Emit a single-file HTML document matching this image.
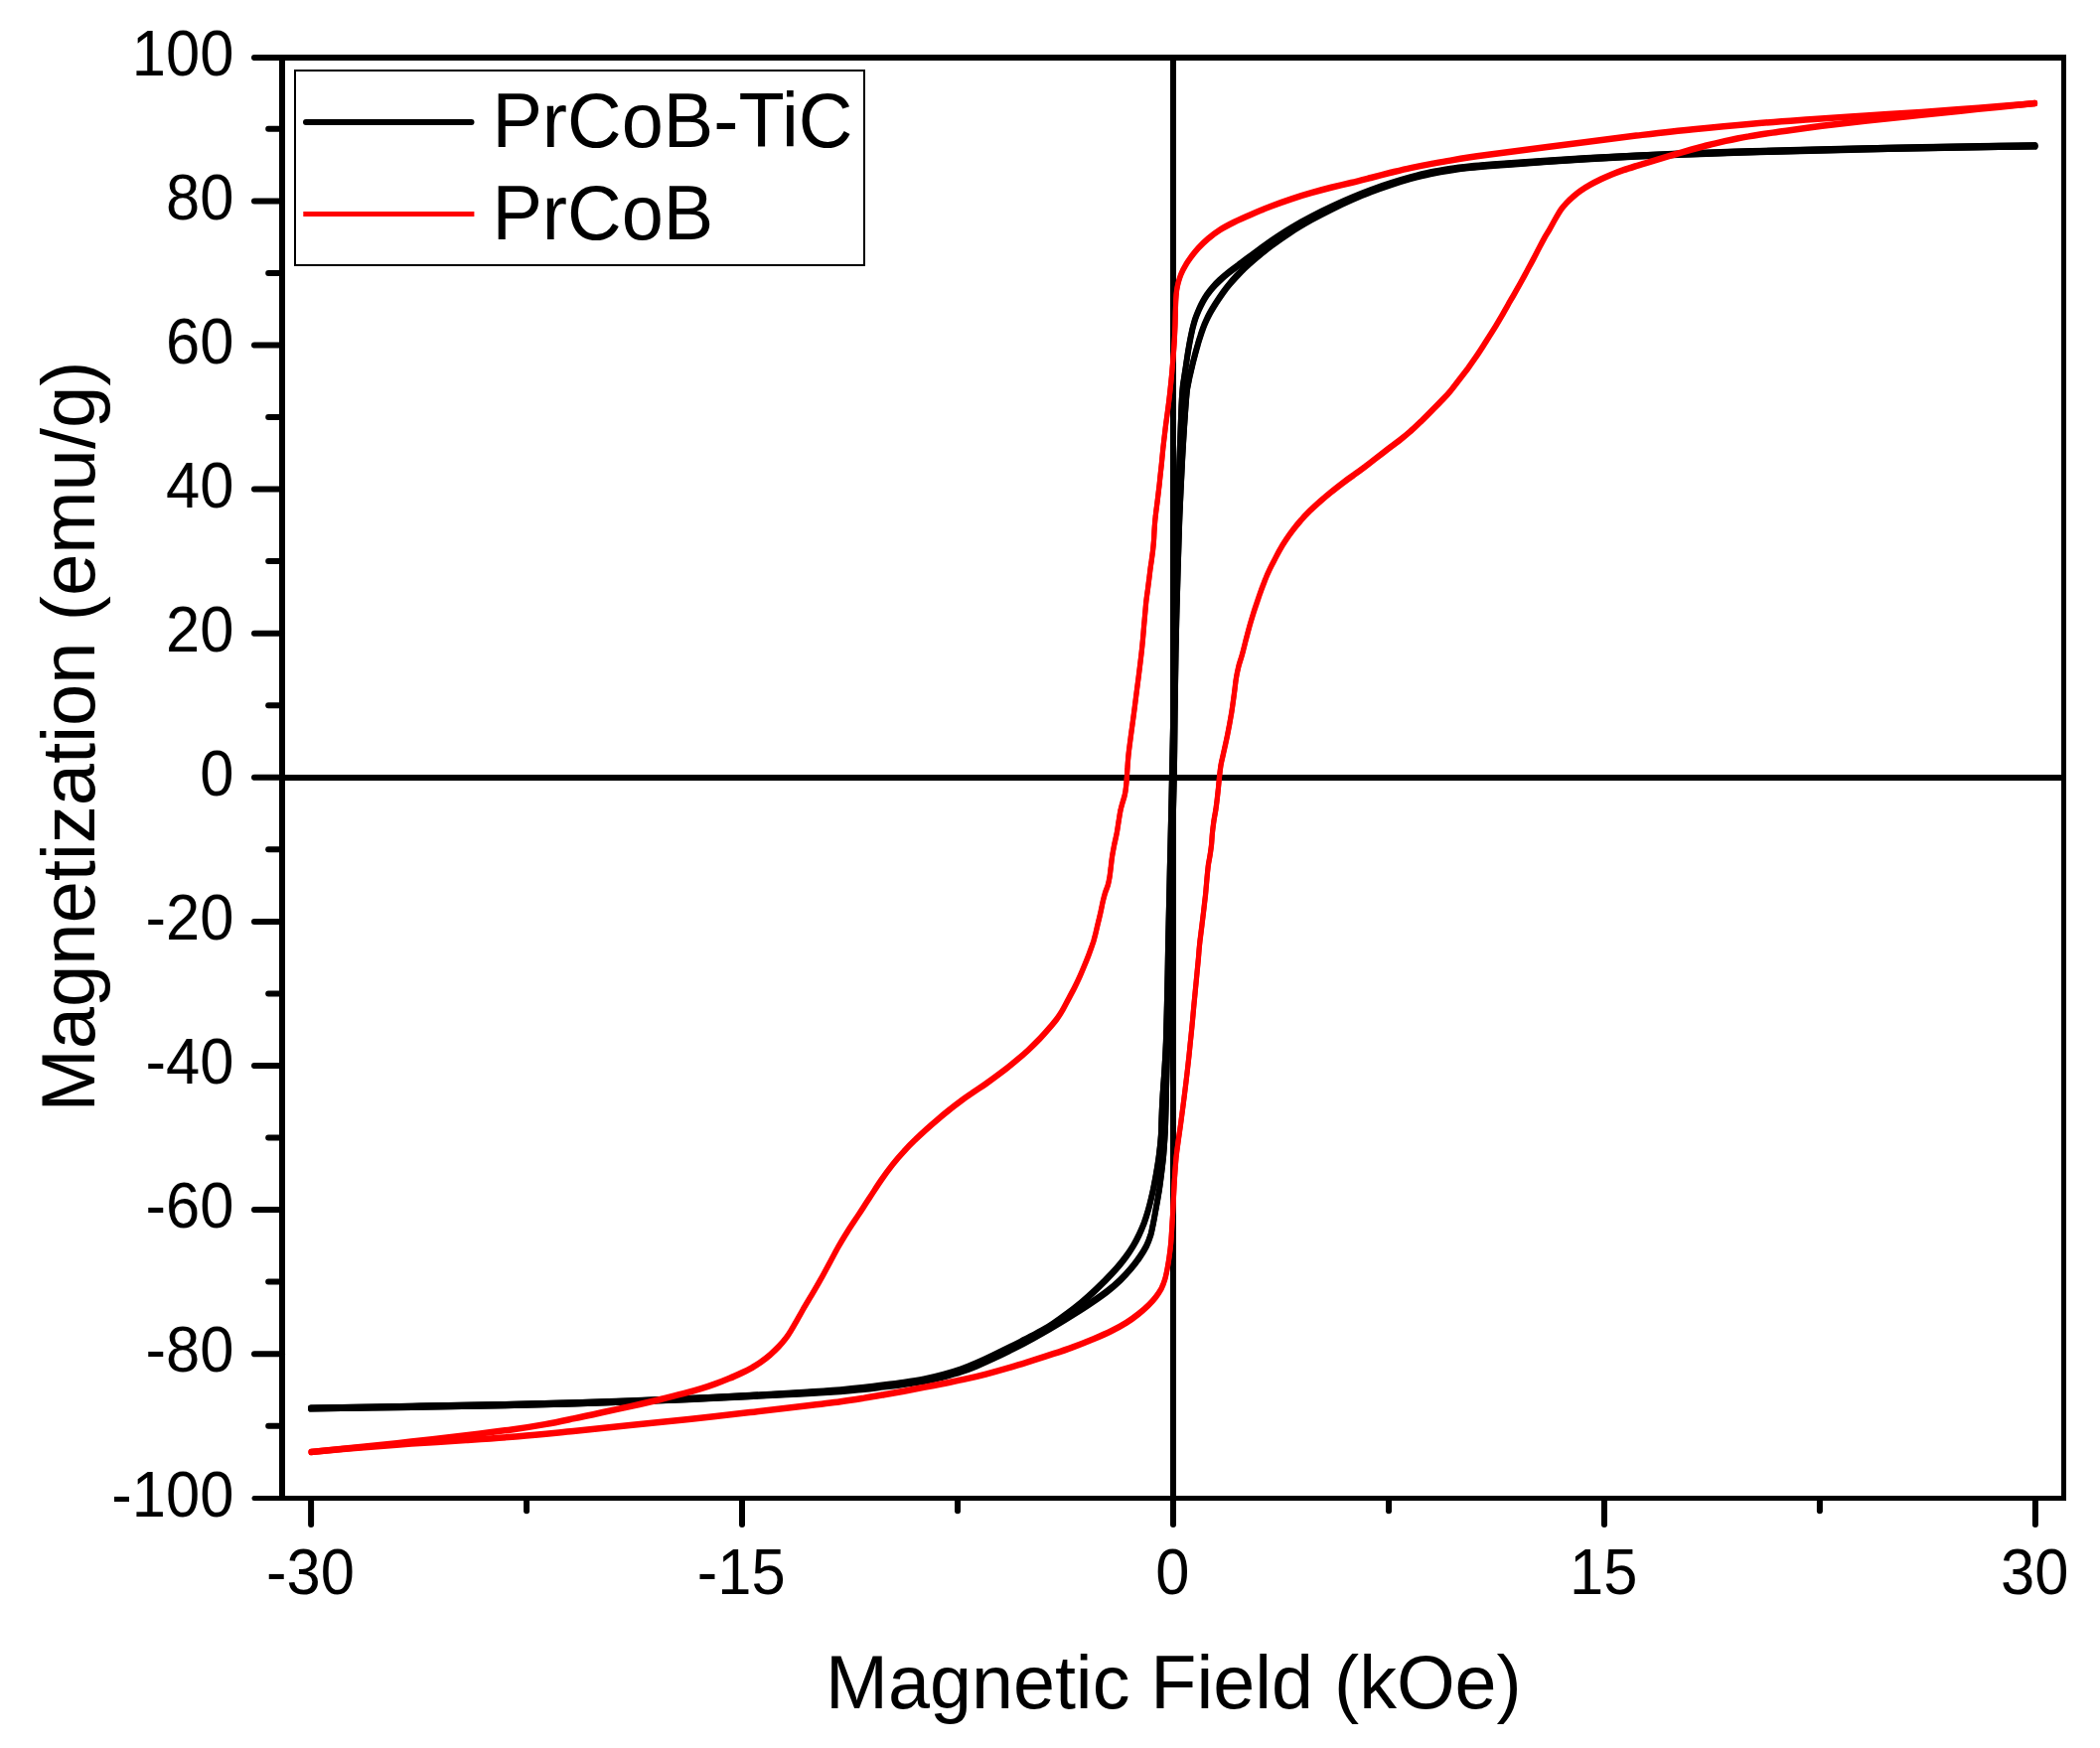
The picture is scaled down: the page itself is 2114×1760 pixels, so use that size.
<!DOCTYPE html>
<html><head><meta charset="utf-8"><title>Hysteresis loops</title>
<style>html,body{margin:0;padding:0;background:#fff}svg{display:block}text{font-family:"Liberation Sans",sans-serif;fill:#000}</style></head><body>
<svg width="2114" height="1760" viewBox="0 0 2114 1760">
<rect width="2114" height="1760" fill="#fff"/>
<g fill="#000">
<rect x="281" y="780" width="1799" height="6"/>
<rect x="1178" y="55" width="6" height="1456"/>
<rect x="281" y="55" width="6" height="1456"/>
<rect x="281" y="55" width="1799" height="6"/>
<rect x="2075" y="55" width="5" height="1456"/>
<rect x="281" y="1506" width="1799" height="5"/>
</g>
<g fill="none" stroke-linecap="round" stroke-linejoin="round">
<path transform="translate(0 -0.7)" stroke="#000" stroke-width="5.8" d="M313.0 1418.0C330.1 1417.7 382.9 1416.9 415.4 1416.3C447.9 1415.8 480.9 1415.2 507.9 1414.6C534.8 1414.0 556.1 1413.4 577.1 1412.8C598.2 1412.2 614.9 1411.7 634.3 1411.0C653.7 1410.3 673.4 1409.5 693.5 1408.6C713.7 1407.7 735.7 1406.6 755.0 1405.6C774.2 1404.7 793.7 1403.6 808.9 1402.8C824.1 1402.0 835.9 1401.3 846.1 1400.6C856.3 1399.9 862.7 1399.1 870.0 1398.4C877.3 1397.6 883.3 1396.8 890.0 1396.0C896.7 1395.2 903.3 1394.5 910.0 1393.5C916.7 1392.6 923.3 1391.6 930.0 1390.4C936.7 1389.1 943.8 1387.5 950.0 1385.9C956.2 1384.3 962.1 1382.7 967.5 1380.9C972.9 1379.1 977.1 1377.5 982.5 1375.3C987.9 1373.0 993.8 1370.4 1000.0 1367.5C1006.2 1364.6 1013.3 1361.2 1020.0 1357.8C1026.7 1354.4 1033.3 1350.9 1040.0 1347.2C1046.7 1343.5 1053.3 1339.8 1060.0 1335.8C1066.7 1331.9 1073.5 1327.7 1080.0 1323.6C1086.5 1319.6 1093.1 1315.4 1098.9 1311.4C1104.7 1307.5 1110.1 1303.8 1114.9 1300.0C1119.8 1296.2 1124.0 1292.5 1127.9 1288.7C1131.9 1284.9 1135.3 1281.1 1138.5 1277.3C1141.7 1273.5 1144.6 1269.6 1147.2 1265.8C1149.8 1262.0 1152.2 1258.2 1154.1 1254.4C1156.0 1250.6 1157.3 1246.8 1158.5 1243.0C1159.6 1239.1 1160.2 1235.3 1161.0 1231.5C1161.8 1227.7 1162.4 1223.9 1163.1 1220.1C1163.8 1216.3 1164.5 1212.4 1165.2 1208.6C1165.8 1204.8 1166.4 1201.5 1167.1 1197.2C1167.7 1192.9 1168.3 1188.6 1169.0 1182.9C1169.7 1177.2 1170.6 1170.5 1171.3 1162.9C1171.9 1155.2 1172.5 1148.7 1173.0 1137.0C1173.5 1125.2 1173.7 1112.6 1174.2 1092.5C1174.7 1072.4 1175.4 1045.3 1176.1 1016.2C1176.8 987.2 1177.8 948.9 1178.5 918.2C1179.3 887.6 1180.1 856.0 1180.7 832.2C1181.3 808.5 1181.6 794.3 1182.0 775.5C1182.3 756.7 1182.5 738.9 1182.7 719.4C1183.0 699.9 1183.2 676.1 1183.6 658.5C1183.9 641.0 1184.2 628.6 1184.6 614.1C1185.0 599.7 1185.4 587.9 1185.8 572.1C1186.3 556.3 1186.8 537.6 1187.5 519.4C1188.3 501.2 1189.3 480.1 1190.2 462.9C1191.1 445.7 1192.3 427.5 1193.1 416.1C1193.9 404.8 1194.3 399.5 1194.8 394.7C1195.3 389.9 1195.5 389.9 1196.0 387.3C1196.5 384.6 1197.1 381.5 1197.7 378.7C1198.4 375.9 1199.0 373.0 1199.7 370.3C1200.3 367.6 1200.9 365.0 1201.6 362.4C1202.3 359.8 1203.0 357.2 1203.6 354.7C1204.3 352.1 1205.0 349.6 1205.8 346.9C1206.5 344.3 1207.3 341.7 1208.2 339.0C1209.0 336.3 1209.9 333.5 1210.9 330.9C1211.9 328.2 1213.0 325.5 1214.2 322.9C1215.3 320.4 1216.6 317.8 1217.9 315.4C1219.2 313.0 1220.6 310.7 1222.1 308.3C1223.5 306.0 1225.0 303.7 1226.6 301.3C1228.2 298.8 1229.9 296.3 1231.7 293.8C1233.6 291.2 1235.6 288.6 1237.8 286.0C1239.9 283.5 1242.1 281.0 1244.4 278.5C1246.7 276.1 1248.5 274.1 1251.5 271.2C1254.5 268.4 1257.6 265.3 1262.3 261.3C1267.0 257.3 1273.5 252.0 1279.7 247.3C1286.0 242.6 1293.3 237.5 1300.0 233.1C1306.7 228.7 1313.3 224.9 1320.0 221.1C1326.7 217.4 1333.3 213.9 1340.0 210.6C1346.7 207.3 1353.3 204.2 1360.0 201.2C1366.7 198.3 1373.3 195.5 1380.0 192.9C1386.7 190.3 1393.3 188.0 1400.0 185.8C1406.7 183.5 1413.3 181.5 1420.0 179.6C1426.7 177.8 1433.3 176.1 1440.0 174.7C1446.7 173.3 1453.3 172.1 1460.0 171.1C1466.7 170.1 1473.3 169.2 1480.0 168.5C1486.7 167.7 1492.5 167.2 1500.0 166.6C1507.5 166.0 1515.4 165.5 1525.0 164.8C1534.6 164.1 1545.5 163.3 1557.5 162.5C1569.5 161.7 1581.8 160.8 1596.8 159.9C1611.7 159.0 1629.2 158.1 1647.1 157.2C1665.0 156.4 1685.0 155.5 1704.3 154.8C1723.6 154.1 1743.4 153.5 1763.0 152.9C1782.7 152.3 1802.9 151.8 1822.1 151.3C1841.3 150.8 1859.7 150.4 1878.4 149.9C1897.1 149.5 1915.4 149.1 1934.3 148.8C1953.1 148.4 1972.4 148.1 1991.4 147.8C2010.5 147.4 2039.1 147.0 2048.6 146.9"/>
<path transform="translate(0 0.7)" stroke="#000" stroke-width="5.8" d="M313.0 1418.0C330.1 1417.7 382.9 1416.9 415.4 1416.3C447.9 1415.8 480.9 1415.2 507.9 1414.6C534.8 1414.0 556.1 1413.4 577.1 1412.8C598.2 1412.2 614.9 1411.7 634.3 1411.0C653.7 1410.3 673.4 1409.5 693.5 1408.6C713.7 1407.7 735.7 1406.6 755.0 1405.6C774.2 1404.7 793.7 1403.6 808.9 1402.8C824.1 1402.0 835.9 1401.3 846.1 1400.6C856.3 1399.9 862.7 1399.1 870.0 1398.4C877.3 1397.6 883.3 1396.8 890.0 1396.0C896.7 1395.2 903.3 1394.5 910.0 1393.5C916.7 1392.6 923.3 1391.6 930.0 1390.4C936.7 1389.1 943.8 1387.5 950.0 1385.9C956.2 1384.3 962.1 1382.7 967.5 1380.9C972.9 1379.1 977.1 1377.5 982.5 1375.3C987.9 1373.0 993.8 1370.4 1000.0 1367.5C1006.2 1364.6 1013.3 1361.2 1020.0 1357.8C1026.7 1354.4 1033.3 1350.9 1040.0 1347.2C1046.7 1343.5 1053.3 1339.8 1060.0 1335.8C1066.7 1331.9 1073.5 1327.7 1080.0 1323.6C1086.5 1319.6 1093.1 1315.4 1098.9 1311.4C1104.7 1307.5 1110.1 1303.8 1114.9 1300.0C1119.8 1296.2 1124.0 1292.5 1127.9 1288.7C1131.9 1284.9 1135.3 1281.1 1138.5 1277.3C1141.7 1273.5 1144.6 1269.6 1147.2 1265.8C1149.8 1262.0 1152.2 1258.2 1154.1 1254.4C1156.0 1250.6 1157.3 1246.8 1158.5 1243.0C1159.6 1239.1 1160.2 1235.3 1161.0 1231.5C1161.8 1227.7 1162.4 1223.9 1163.1 1220.1C1163.8 1216.3 1164.5 1212.4 1165.2 1208.6C1165.8 1204.8 1166.4 1201.5 1167.1 1197.2C1167.7 1192.9 1168.3 1188.6 1169.0 1182.9C1169.7 1177.2 1170.6 1170.5 1171.3 1162.9C1171.9 1155.2 1172.5 1148.7 1173.0 1137.0C1173.5 1125.2 1173.7 1112.6 1174.2 1092.5C1174.7 1072.4 1175.4 1045.3 1176.1 1016.2C1176.8 987.2 1177.8 948.9 1178.5 918.2C1179.3 887.6 1180.1 856.0 1180.7 832.2C1181.3 808.5 1181.6 794.3 1182.0 775.5C1182.3 756.7 1182.5 738.9 1182.7 719.4C1183.0 699.9 1183.2 676.1 1183.6 658.5C1183.9 641.0 1184.2 628.6 1184.6 614.1C1185.0 599.7 1185.4 587.9 1185.8 572.1C1186.3 556.3 1186.8 537.6 1187.5 519.4C1188.3 501.2 1189.3 480.1 1190.2 462.9C1191.1 445.7 1192.3 427.5 1193.1 416.1C1193.9 404.8 1194.3 399.5 1194.8 394.7C1195.3 389.9 1195.5 389.9 1196.0 387.3C1196.5 384.6 1197.1 381.5 1197.7 378.7C1198.4 375.9 1199.0 373.0 1199.7 370.3C1200.3 367.6 1200.9 365.0 1201.6 362.4C1202.3 359.8 1203.0 357.2 1203.6 354.7C1204.3 352.1 1205.0 349.6 1205.8 346.9C1206.5 344.3 1207.3 341.7 1208.2 339.0C1209.0 336.3 1209.9 333.5 1210.9 330.9C1211.9 328.2 1213.0 325.5 1214.2 322.9C1215.3 320.4 1216.6 317.8 1217.9 315.4C1219.2 313.0 1220.6 310.7 1222.1 308.3C1223.5 306.0 1225.0 303.7 1226.6 301.3C1228.2 298.8 1229.9 296.3 1231.7 293.8C1233.6 291.2 1235.6 288.6 1237.8 286.0C1239.9 283.5 1242.1 281.0 1244.4 278.5C1246.7 276.1 1248.5 274.1 1251.5 271.2C1254.5 268.4 1257.6 265.3 1262.3 261.3C1267.0 257.3 1273.5 252.0 1279.7 247.3C1286.0 242.6 1293.3 237.5 1300.0 233.1C1306.7 228.7 1313.3 224.9 1320.0 221.1C1326.7 217.4 1333.3 213.9 1340.0 210.6C1346.7 207.3 1353.3 204.2 1360.0 201.2C1366.7 198.3 1373.3 195.5 1380.0 192.9C1386.7 190.3 1393.3 188.0 1400.0 185.8C1406.7 183.5 1413.3 181.5 1420.0 179.6C1426.7 177.8 1433.3 176.1 1440.0 174.7C1446.7 173.3 1453.3 172.1 1460.0 171.1C1466.7 170.1 1473.3 169.2 1480.0 168.5C1486.7 167.7 1492.5 167.2 1500.0 166.6C1507.5 166.0 1515.4 165.5 1525.0 164.8C1534.6 164.1 1545.5 163.3 1557.5 162.5C1569.5 161.7 1581.8 160.8 1596.8 159.9C1611.7 159.0 1629.2 158.1 1647.1 157.2C1665.0 156.4 1685.0 155.5 1704.3 154.8C1723.6 154.1 1743.4 153.5 1763.0 152.9C1782.7 152.3 1802.9 151.8 1822.1 151.3C1841.3 150.8 1859.7 150.4 1878.4 149.9C1897.1 149.5 1915.4 149.1 1934.3 148.8C1953.1 148.4 1972.4 148.1 1991.4 147.8C2010.5 147.4 2039.1 147.0 2048.6 146.9"/>
<path transform="translate(0 -0.7)" stroke="#000" stroke-width="5.8" d="M2048.6 146.9C2039.1 147.0 2010.5 147.4 1991.4 147.7C1972.4 148.0 1953.1 148.3 1934.3 148.6C1915.4 149.0 1897.1 149.4 1878.4 149.8C1859.7 150.2 1841.3 150.7 1822.1 151.2C1802.9 151.7 1782.7 152.2 1763.0 152.7C1743.4 153.3 1723.6 153.9 1704.3 154.6C1685.0 155.3 1665.0 156.1 1647.1 157.0C1629.2 157.8 1611.7 158.8 1596.8 159.6C1581.8 160.5 1569.5 161.4 1557.5 162.2C1545.5 163.0 1534.6 163.8 1525.0 164.4C1515.4 165.1 1507.5 165.6 1500.0 166.1C1492.5 166.7 1486.7 167.2 1480.0 167.9C1473.3 168.6 1466.7 169.3 1460.0 170.3C1453.3 171.4 1446.7 172.5 1440.0 173.9C1433.3 175.3 1426.7 177.0 1420.0 178.8C1413.3 180.6 1406.7 182.6 1400.0 184.8C1393.3 186.9 1386.7 189.2 1380.0 191.7C1373.3 194.2 1366.7 196.8 1360.0 199.6C1353.3 202.4 1346.7 205.4 1340.0 208.6C1333.3 211.7 1326.7 215.0 1320.0 218.6C1313.3 222.1 1306.7 225.7 1300.0 229.7C1293.3 233.7 1286.5 238.2 1280.0 242.6C1273.5 247.1 1266.8 252.2 1261.2 256.3C1255.7 260.4 1250.7 264.0 1246.5 267.2C1242.2 270.3 1239.1 272.6 1236.0 275.1C1232.8 277.6 1230.2 280.0 1227.7 282.4C1225.1 284.8 1222.8 287.1 1220.8 289.5C1218.8 291.8 1217.1 294.0 1215.4 296.3C1213.8 298.7 1212.4 301.0 1210.9 303.6C1209.5 306.2 1208.1 309.0 1206.8 312.0C1205.5 315.0 1204.2 318.2 1203.1 321.4C1202.1 324.6 1201.2 328.0 1200.4 331.1C1199.7 334.2 1199.1 337.2 1198.5 340.1C1197.9 343.0 1197.4 345.8 1196.9 348.7C1196.4 351.5 1195.9 354.4 1195.5 357.2C1195.1 360.1 1194.6 363.0 1194.2 365.8C1193.8 368.7 1193.4 371.5 1192.9 374.4C1192.5 377.3 1192.0 380.1 1191.6 383.0C1191.2 385.8 1190.9 386.1 1190.5 391.5C1190.0 396.9 1189.6 402.3 1189.1 415.4C1188.5 428.5 1187.8 449.6 1187.1 470.0C1186.5 490.3 1185.7 515.0 1185.1 537.5C1184.5 560.0 1184.0 580.8 1183.5 605.0C1183.0 629.2 1182.5 656.8 1181.9 682.5C1181.4 708.2 1180.8 737.2 1180.3 759.5C1179.9 781.8 1179.5 799.9 1179.1 816.5C1178.7 833.1 1178.4 845.0 1178.1 859.2C1177.7 873.5 1177.4 886.9 1177.1 902.0C1176.7 917.1 1176.4 933.1 1176.0 949.8C1175.7 966.4 1175.4 985.3 1175.0 1001.8C1174.6 1018.2 1174.2 1036.0 1173.8 1048.5C1173.3 1061.0 1172.8 1069.3 1172.3 1076.8C1171.9 1084.4 1171.5 1087.7 1171.1 1093.5C1170.7 1099.3 1170.3 1105.8 1170.0 1111.6C1169.7 1117.3 1169.5 1122.7 1169.3 1128.0C1169.1 1133.2 1169.2 1137.2 1168.8 1143.0C1168.4 1148.9 1167.7 1156.2 1166.8 1162.9C1166.0 1169.5 1164.7 1177.2 1163.7 1182.9C1162.7 1188.6 1161.8 1192.9 1161.0 1197.2C1160.1 1201.5 1159.3 1204.8 1158.4 1208.6C1157.5 1212.4 1156.5 1216.3 1155.4 1220.1C1154.3 1223.9 1153.1 1227.7 1151.7 1231.5C1150.2 1235.3 1148.6 1239.1 1146.8 1243.0C1145.0 1246.8 1143.1 1250.6 1140.8 1254.4C1138.5 1258.2 1136.1 1262.0 1133.2 1265.8C1130.4 1269.6 1127.2 1273.5 1123.8 1277.3C1120.4 1281.1 1116.8 1284.9 1113.1 1288.7C1109.3 1292.5 1105.6 1296.3 1101.5 1300.1C1097.4 1304.0 1093.2 1307.8 1088.6 1311.6C1084.0 1315.4 1078.8 1319.5 1074.0 1323.0C1069.3 1326.6 1064.2 1330.2 1060.0 1333.0C1055.9 1335.8 1052.9 1337.6 1049.2 1339.8C1045.4 1342.0 1042.1 1343.6 1037.3 1346.1C1032.4 1348.7 1026.2 1351.8 1020.0 1355.0C1013.8 1358.1 1006.2 1361.8 1000.0 1364.8C993.8 1367.8 987.9 1370.6 982.5 1372.9C977.1 1375.3 972.9 1377.0 967.5 1378.9C962.1 1380.8 956.2 1382.6 950.0 1384.2C943.8 1385.9 936.7 1387.6 930.0 1389.0C923.3 1390.3 916.7 1391.3 910.0 1392.3C903.3 1393.3 896.7 1394.1 890.0 1394.9C883.3 1395.8 877.3 1396.6 870.0 1397.4C862.7 1398.2 856.3 1398.9 846.1 1399.8C835.9 1400.6 824.1 1401.4 808.9 1402.3C793.7 1403.2 774.2 1404.4 755.0 1405.4C735.7 1406.4 713.7 1407.5 693.5 1408.4C673.4 1409.3 653.7 1410.1 634.3 1410.8C614.9 1411.5 598.2 1412.2 577.1 1412.8C556.1 1413.4 534.8 1414.0 507.8 1414.6C480.9 1415.2 447.9 1415.8 415.4 1416.3C382.9 1416.9 330.1 1417.7 313.0 1418.0"/>
<path transform="translate(0 0.7)" stroke="#000" stroke-width="5.8" d="M2048.6 146.9C2039.1 147.0 2010.5 147.4 1991.4 147.7C1972.4 148.0 1953.1 148.3 1934.3 148.6C1915.4 149.0 1897.1 149.4 1878.4 149.8C1859.7 150.2 1841.3 150.7 1822.1 151.2C1802.9 151.7 1782.7 152.2 1763.0 152.7C1743.4 153.3 1723.6 153.9 1704.3 154.6C1685.0 155.3 1665.0 156.1 1647.1 157.0C1629.2 157.8 1611.7 158.8 1596.8 159.6C1581.8 160.5 1569.5 161.4 1557.5 162.2C1545.5 163.0 1534.6 163.8 1525.0 164.4C1515.4 165.1 1507.5 165.6 1500.0 166.1C1492.5 166.7 1486.7 167.2 1480.0 167.9C1473.3 168.6 1466.7 169.3 1460.0 170.3C1453.3 171.4 1446.7 172.5 1440.0 173.9C1433.3 175.3 1426.7 177.0 1420.0 178.8C1413.3 180.6 1406.7 182.6 1400.0 184.8C1393.3 186.9 1386.7 189.2 1380.0 191.7C1373.3 194.2 1366.7 196.8 1360.0 199.6C1353.3 202.4 1346.7 205.4 1340.0 208.6C1333.3 211.7 1326.7 215.0 1320.0 218.6C1313.3 222.1 1306.7 225.7 1300.0 229.7C1293.3 233.7 1286.5 238.2 1280.0 242.6C1273.5 247.1 1266.8 252.2 1261.2 256.3C1255.7 260.4 1250.7 264.0 1246.5 267.2C1242.2 270.3 1239.1 272.6 1236.0 275.1C1232.8 277.6 1230.2 280.0 1227.7 282.4C1225.1 284.8 1222.8 287.1 1220.8 289.5C1218.8 291.8 1217.1 294.0 1215.4 296.3C1213.8 298.7 1212.4 301.0 1210.9 303.6C1209.5 306.2 1208.1 309.0 1206.8 312.0C1205.5 315.0 1204.2 318.2 1203.1 321.4C1202.1 324.6 1201.2 328.0 1200.4 331.1C1199.7 334.2 1199.1 337.2 1198.5 340.1C1197.9 343.0 1197.4 345.8 1196.9 348.7C1196.4 351.5 1195.9 354.4 1195.5 357.2C1195.1 360.1 1194.6 363.0 1194.2 365.8C1193.8 368.7 1193.4 371.5 1192.9 374.4C1192.5 377.3 1192.0 380.1 1191.6 383.0C1191.2 385.8 1190.9 386.1 1190.5 391.5C1190.0 396.9 1189.6 402.3 1189.1 415.4C1188.5 428.5 1187.8 449.6 1187.1 470.0C1186.5 490.3 1185.7 515.0 1185.1 537.5C1184.5 560.0 1184.0 580.8 1183.5 605.0C1183.0 629.2 1182.5 656.8 1181.9 682.5C1181.4 708.2 1180.8 737.2 1180.3 759.5C1179.9 781.8 1179.5 799.9 1179.1 816.5C1178.7 833.1 1178.4 845.0 1178.1 859.2C1177.7 873.5 1177.4 886.9 1177.1 902.0C1176.7 917.1 1176.4 933.1 1176.0 949.8C1175.7 966.4 1175.4 985.3 1175.0 1001.8C1174.6 1018.2 1174.2 1036.0 1173.8 1048.5C1173.3 1061.0 1172.8 1069.3 1172.3 1076.8C1171.9 1084.4 1171.5 1087.7 1171.1 1093.5C1170.7 1099.3 1170.3 1105.8 1170.0 1111.6C1169.7 1117.3 1169.5 1122.7 1169.3 1128.0C1169.1 1133.2 1169.2 1137.2 1168.8 1143.0C1168.4 1148.9 1167.7 1156.2 1166.8 1162.9C1166.0 1169.5 1164.7 1177.2 1163.7 1182.9C1162.7 1188.6 1161.8 1192.9 1161.0 1197.2C1160.1 1201.5 1159.3 1204.8 1158.4 1208.6C1157.5 1212.4 1156.5 1216.3 1155.4 1220.1C1154.3 1223.9 1153.1 1227.7 1151.7 1231.5C1150.2 1235.3 1148.6 1239.1 1146.8 1243.0C1145.0 1246.8 1143.1 1250.6 1140.8 1254.4C1138.5 1258.2 1136.1 1262.0 1133.2 1265.8C1130.4 1269.6 1127.2 1273.5 1123.8 1277.3C1120.4 1281.1 1116.8 1284.9 1113.1 1288.7C1109.3 1292.5 1105.6 1296.3 1101.5 1300.1C1097.4 1304.0 1093.2 1307.8 1088.6 1311.6C1084.0 1315.4 1078.8 1319.5 1074.0 1323.0C1069.3 1326.6 1064.2 1330.2 1060.0 1333.0C1055.9 1335.8 1052.9 1337.6 1049.2 1339.8C1045.4 1342.0 1042.1 1343.6 1037.3 1346.1C1032.4 1348.7 1026.2 1351.8 1020.0 1355.0C1013.8 1358.1 1006.2 1361.8 1000.0 1364.8C993.8 1367.8 987.9 1370.6 982.5 1372.9C977.1 1375.3 972.9 1377.0 967.5 1378.9C962.1 1380.8 956.2 1382.6 950.0 1384.2C943.8 1385.9 936.7 1387.6 930.0 1389.0C923.3 1390.3 916.7 1391.3 910.0 1392.3C903.3 1393.3 896.7 1394.1 890.0 1394.9C883.3 1395.8 877.3 1396.6 870.0 1397.4C862.7 1398.2 856.3 1398.9 846.1 1399.8C835.9 1400.6 824.1 1401.4 808.9 1402.3C793.7 1403.2 774.2 1404.4 755.0 1405.4C735.7 1406.4 713.7 1407.5 693.5 1408.4C673.4 1409.3 653.7 1410.1 634.3 1410.8C614.9 1411.5 598.2 1412.2 577.1 1412.8C556.1 1413.4 534.8 1414.0 507.8 1414.6C480.9 1415.2 447.9 1415.8 415.4 1416.3C382.9 1416.9 330.1 1417.7 313.0 1418.0"/>
<path transform="translate(0 -0.7)" stroke="#f00" stroke-width="5.1" d="M313.0 1462.0C320.9 1461.3 343.4 1459.2 360.2 1457.8C377.1 1456.4 395.9 1454.9 414.0 1453.6C432.1 1452.3 451.0 1451.3 469.0 1450.0C487.0 1448.8 504.0 1447.7 522.0 1446.2C540.0 1444.7 558.4 1442.8 577.1 1441.0C595.8 1439.1 614.9 1437.1 634.3 1435.1C653.7 1433.1 673.4 1431.1 693.5 1429.0C713.7 1426.8 735.7 1424.3 755.0 1422.1C774.2 1420.0 793.7 1417.7 808.9 1415.8C824.1 1414.0 835.9 1412.6 846.1 1411.2C856.3 1409.9 862.7 1408.8 870.0 1407.6C877.3 1406.5 883.3 1405.4 890.0 1404.2C896.7 1403.0 903.3 1401.9 910.0 1400.7C916.7 1399.4 923.3 1398.2 930.0 1396.9C936.7 1395.6 943.3 1394.3 950.0 1393.0C956.7 1391.7 962.9 1390.5 970.0 1388.9C977.1 1387.4 984.6 1385.7 992.5 1383.6C1000.4 1381.5 1009.6 1378.9 1017.5 1376.6C1025.4 1374.3 1032.9 1371.9 1040.0 1369.7C1047.1 1367.5 1053.3 1365.5 1060.0 1363.2C1066.7 1361.0 1073.3 1358.8 1080.0 1356.3C1086.7 1353.9 1093.6 1351.2 1100.0 1348.5C1106.4 1345.8 1112.9 1343.0 1118.5 1340.2C1124.1 1337.4 1129.1 1334.7 1133.7 1331.8C1138.3 1329.0 1142.4 1326.0 1146.1 1323.0C1149.8 1320.1 1153.2 1317.0 1156.1 1314.2C1159.0 1311.3 1161.4 1308.6 1163.5 1305.9C1165.7 1303.1 1167.4 1300.5 1169.0 1297.6C1170.5 1294.6 1171.7 1291.5 1172.7 1288.1C1173.7 1284.8 1174.4 1281.0 1175.1 1277.3C1175.8 1273.6 1176.4 1270.1 1177.0 1265.8C1177.6 1261.5 1178.2 1257.3 1178.7 1251.5C1179.2 1245.8 1179.6 1238.7 1180.0 1231.5C1180.5 1224.4 1180.9 1216.3 1181.3 1208.6C1181.7 1201.0 1182.0 1192.9 1182.5 1185.8C1183.0 1178.6 1183.5 1171.5 1184.0 1165.7C1184.6 1160.0 1185.0 1157.0 1185.8 1151.4C1186.5 1145.8 1187.4 1140.4 1188.5 1132.2C1189.6 1124.0 1191.2 1111.9 1192.4 1102.2C1193.6 1092.6 1194.8 1082.8 1195.7 1074.4C1196.7 1065.9 1197.4 1059.1 1198.1 1051.5C1198.9 1043.9 1199.7 1036.3 1200.4 1028.6C1201.1 1021.0 1201.7 1013.4 1202.5 1005.8C1203.2 998.1 1204.0 989.8 1204.7 982.9C1205.4 975.9 1206.0 969.1 1206.5 964.0C1206.9 958.8 1207.1 955.6 1207.5 951.9C1207.8 948.2 1208.2 945.2 1208.7 941.6C1209.1 938.0 1209.7 934.0 1210.1 930.1C1210.6 926.3 1211.0 922.5 1211.5 918.7C1211.9 914.9 1212.4 911.1 1212.8 907.3C1213.3 903.5 1213.7 899.8 1214.0 895.8C1214.4 891.8 1214.7 887.4 1215.1 883.2C1215.5 879.1 1215.9 874.5 1216.4 870.7C1217.0 866.9 1217.7 863.8 1218.2 860.4C1218.7 856.9 1219.2 853.8 1219.6 850.1C1219.9 846.4 1220.1 842.1 1220.5 838.1C1220.9 834.1 1221.5 829.9 1222.0 826.1C1222.6 822.2 1223.3 818.8 1223.9 815.2C1224.4 811.6 1224.9 808.0 1225.3 804.3C1225.7 800.7 1226.1 797.0 1226.5 793.2C1226.8 789.5 1227.2 785.4 1227.6 781.6C1228.0 777.8 1228.4 774.2 1229.0 770.3C1229.7 766.5 1230.5 763.5 1231.6 758.5C1232.7 753.5 1234.2 747.0 1235.6 740.2C1237.0 733.3 1238.6 724.5 1239.8 717.3C1240.9 710.1 1241.8 703.1 1242.6 697.3C1243.4 691.5 1243.7 686.9 1244.5 682.4C1245.2 677.9 1246.1 674.2 1247.0 670.4C1248.0 666.6 1249.2 663.6 1250.3 659.5C1251.5 655.4 1252.4 651.4 1253.8 645.8C1255.3 640.2 1257.1 632.9 1259.2 625.8C1261.3 618.6 1264.2 609.8 1266.6 602.9C1268.9 595.9 1271.5 589.0 1273.5 584.0C1275.4 578.9 1276.9 575.8 1278.5 572.5C1280.1 569.1 1281.3 566.9 1282.9 563.9C1284.5 560.8 1286.1 557.5 1288.0 554.2C1289.9 550.8 1292.1 547.2 1294.3 543.9C1296.6 540.5 1298.9 537.2 1301.5 533.8C1304.0 530.5 1306.6 527.2 1309.5 524.0C1312.3 520.7 1315.4 517.4 1318.6 514.3C1321.9 511.1 1325.3 508.0 1328.9 504.8C1332.5 501.7 1336.3 498.5 1340.1 495.4C1343.8 492.3 1347.7 489.3 1351.5 486.4C1355.3 483.5 1359.1 480.8 1363.0 478.1C1366.8 475.3 1370.6 472.6 1374.4 469.8C1378.2 466.9 1382.0 463.9 1385.8 460.9C1389.6 458.0 1393.5 455.0 1397.3 452.1C1401.1 449.1 1404.9 446.5 1408.7 443.5C1412.5 440.5 1416.3 437.4 1420.1 434.0C1424.0 430.7 1427.8 426.9 1431.6 423.2C1435.4 419.5 1439.5 415.3 1443.0 411.7C1446.6 408.2 1449.9 404.9 1452.8 401.8C1455.8 398.7 1457.9 396.4 1460.5 393.2C1463.1 390.0 1465.8 386.5 1468.6 382.8C1471.4 379.2 1474.6 375.0 1477.5 371.2C1480.3 367.3 1483.0 363.5 1485.6 359.7C1488.2 356.0 1490.6 352.2 1492.9 348.6C1495.2 344.9 1497.5 341.4 1499.6 338.0C1501.8 334.6 1503.9 331.3 1505.9 328.0C1507.9 324.6 1509.8 321.4 1511.8 318.0C1513.8 314.5 1515.7 311.0 1517.8 307.4C1519.8 303.8 1522.0 300.2 1524.1 296.5C1526.2 292.8 1528.3 289.0 1530.5 285.1C1532.7 281.1 1535.0 276.9 1537.2 272.8C1539.4 268.7 1541.7 264.5 1543.8 260.5C1545.9 256.5 1547.9 252.4 1549.8 248.8C1551.7 245.1 1553.5 241.8 1555.2 238.7C1557.0 235.6 1558.6 233.2 1560.3 230.2C1562.1 227.1 1563.9 223.6 1565.7 220.4C1567.6 217.2 1569.5 213.7 1571.4 211.0C1573.3 208.3 1575.2 206.3 1577.2 204.1C1579.2 202.0 1581.1 200.2 1583.5 198.1C1585.8 196.1 1588.3 194.0 1591.2 192.0C1594.0 190.0 1597.2 188.0 1600.6 186.1C1604.0 184.2 1607.8 182.3 1611.5 180.5C1615.2 178.8 1619.1 177.1 1622.9 175.5C1626.7 174.0 1630.5 172.6 1634.4 171.2C1638.2 169.9 1642.0 168.7 1645.8 167.5C1649.6 166.3 1653.4 165.2 1657.2 164.1C1661.0 163.0 1664.9 161.8 1668.7 160.7C1672.5 159.5 1676.3 158.4 1680.1 157.2C1683.9 156.1 1687.7 154.9 1691.5 153.8C1695.4 152.7 1699.2 151.6 1703.0 150.5C1706.8 149.5 1710.6 148.5 1714.4 147.5C1718.2 146.5 1722.1 145.6 1725.9 144.6C1729.7 143.7 1733.5 142.8 1737.3 141.9C1741.1 141.1 1744.9 140.3 1748.7 139.5C1752.6 138.7 1756.4 138.0 1760.2 137.4C1764.0 136.7 1767.6 136.1 1771.6 135.5C1775.7 134.9 1779.2 134.4 1784.4 133.6C1789.7 132.9 1795.0 132.0 1803.3 130.9C1811.6 129.7 1821.5 128.3 1834.2 126.7C1847.0 125.2 1862.9 123.4 1879.5 121.5C1896.1 119.7 1915.4 117.8 1934.0 115.8C1952.6 113.8 1972.1 111.8 1991.2 109.8C2010.2 107.9 2039.0 105.0 2048.6 104.0"/>
<path transform="translate(0 0.7)" stroke="#f00" stroke-width="5.1" d="M313.0 1462.0C320.9 1461.3 343.4 1459.2 360.2 1457.8C377.1 1456.4 395.9 1454.9 414.0 1453.6C432.1 1452.3 451.0 1451.3 469.0 1450.0C487.0 1448.8 504.0 1447.7 522.0 1446.2C540.0 1444.7 558.4 1442.8 577.1 1441.0C595.8 1439.1 614.9 1437.1 634.3 1435.1C653.7 1433.1 673.4 1431.1 693.5 1429.0C713.7 1426.8 735.7 1424.3 755.0 1422.1C774.2 1420.0 793.7 1417.7 808.9 1415.8C824.1 1414.0 835.9 1412.6 846.1 1411.2C856.3 1409.9 862.7 1408.8 870.0 1407.6C877.3 1406.5 883.3 1405.4 890.0 1404.2C896.7 1403.0 903.3 1401.9 910.0 1400.7C916.7 1399.4 923.3 1398.2 930.0 1396.9C936.7 1395.6 943.3 1394.3 950.0 1393.0C956.7 1391.7 962.9 1390.5 970.0 1388.9C977.1 1387.4 984.6 1385.7 992.5 1383.6C1000.4 1381.5 1009.6 1378.9 1017.5 1376.6C1025.4 1374.3 1032.9 1371.9 1040.0 1369.7C1047.1 1367.5 1053.3 1365.5 1060.0 1363.2C1066.7 1361.0 1073.3 1358.8 1080.0 1356.3C1086.7 1353.9 1093.6 1351.2 1100.0 1348.5C1106.4 1345.8 1112.9 1343.0 1118.5 1340.2C1124.1 1337.4 1129.1 1334.7 1133.7 1331.8C1138.3 1329.0 1142.4 1326.0 1146.1 1323.0C1149.8 1320.1 1153.2 1317.0 1156.1 1314.2C1159.0 1311.3 1161.4 1308.6 1163.5 1305.9C1165.7 1303.1 1167.4 1300.5 1169.0 1297.6C1170.5 1294.6 1171.7 1291.5 1172.7 1288.1C1173.7 1284.8 1174.4 1281.0 1175.1 1277.3C1175.8 1273.6 1176.4 1270.1 1177.0 1265.8C1177.6 1261.5 1178.2 1257.3 1178.7 1251.5C1179.2 1245.8 1179.6 1238.7 1180.0 1231.5C1180.5 1224.4 1180.9 1216.3 1181.3 1208.6C1181.7 1201.0 1182.0 1192.9 1182.5 1185.8C1183.0 1178.6 1183.5 1171.5 1184.0 1165.7C1184.6 1160.0 1185.0 1157.0 1185.8 1151.4C1186.5 1145.8 1187.4 1140.4 1188.5 1132.2C1189.6 1124.0 1191.2 1111.9 1192.4 1102.2C1193.6 1092.6 1194.8 1082.8 1195.7 1074.4C1196.7 1065.9 1197.4 1059.1 1198.1 1051.5C1198.9 1043.9 1199.7 1036.3 1200.4 1028.6C1201.1 1021.0 1201.7 1013.4 1202.5 1005.8C1203.2 998.1 1204.0 989.8 1204.7 982.9C1205.4 975.9 1206.0 969.1 1206.5 964.0C1206.9 958.8 1207.1 955.6 1207.5 951.9C1207.8 948.2 1208.2 945.2 1208.7 941.6C1209.1 938.0 1209.7 934.0 1210.1 930.1C1210.6 926.3 1211.0 922.5 1211.5 918.7C1211.9 914.9 1212.4 911.1 1212.8 907.3C1213.3 903.5 1213.7 899.8 1214.0 895.8C1214.4 891.8 1214.7 887.4 1215.1 883.2C1215.5 879.1 1215.9 874.5 1216.4 870.7C1217.0 866.9 1217.7 863.8 1218.2 860.4C1218.7 856.9 1219.2 853.8 1219.6 850.1C1219.9 846.4 1220.1 842.1 1220.5 838.1C1220.9 834.1 1221.5 829.9 1222.0 826.1C1222.6 822.2 1223.3 818.8 1223.9 815.2C1224.4 811.6 1224.9 808.0 1225.3 804.3C1225.7 800.7 1226.1 797.0 1226.5 793.2C1226.8 789.5 1227.2 785.4 1227.6 781.6C1228.0 777.8 1228.4 774.2 1229.0 770.3C1229.7 766.5 1230.5 763.5 1231.6 758.5C1232.7 753.5 1234.2 747.0 1235.6 740.2C1237.0 733.3 1238.6 724.5 1239.8 717.3C1240.9 710.1 1241.8 703.1 1242.6 697.3C1243.4 691.5 1243.7 686.9 1244.5 682.4C1245.2 677.9 1246.1 674.2 1247.0 670.4C1248.0 666.6 1249.2 663.6 1250.3 659.5C1251.5 655.4 1252.4 651.4 1253.8 645.8C1255.3 640.2 1257.1 632.9 1259.2 625.8C1261.3 618.6 1264.2 609.8 1266.6 602.9C1268.9 595.9 1271.5 589.0 1273.5 584.0C1275.4 578.9 1276.9 575.8 1278.5 572.5C1280.1 569.1 1281.3 566.9 1282.9 563.9C1284.5 560.8 1286.1 557.5 1288.0 554.2C1289.9 550.8 1292.1 547.2 1294.3 543.9C1296.6 540.5 1298.9 537.2 1301.5 533.8C1304.0 530.5 1306.6 527.2 1309.5 524.0C1312.3 520.7 1315.4 517.4 1318.6 514.3C1321.9 511.1 1325.3 508.0 1328.9 504.8C1332.5 501.7 1336.3 498.5 1340.1 495.4C1343.8 492.3 1347.7 489.3 1351.5 486.4C1355.3 483.5 1359.1 480.8 1363.0 478.1C1366.8 475.3 1370.6 472.6 1374.4 469.8C1378.2 466.9 1382.0 463.9 1385.8 460.9C1389.6 458.0 1393.5 455.0 1397.3 452.1C1401.1 449.1 1404.9 446.5 1408.7 443.5C1412.5 440.5 1416.3 437.4 1420.1 434.0C1424.0 430.7 1427.8 426.9 1431.6 423.2C1435.4 419.5 1439.5 415.3 1443.0 411.7C1446.6 408.2 1449.9 404.9 1452.8 401.8C1455.8 398.7 1457.9 396.4 1460.5 393.2C1463.1 390.0 1465.8 386.5 1468.6 382.8C1471.4 379.2 1474.6 375.0 1477.5 371.2C1480.3 367.3 1483.0 363.5 1485.6 359.7C1488.2 356.0 1490.6 352.2 1492.9 348.6C1495.2 344.9 1497.5 341.4 1499.6 338.0C1501.8 334.6 1503.9 331.3 1505.9 328.0C1507.9 324.6 1509.8 321.4 1511.8 318.0C1513.8 314.5 1515.7 311.0 1517.8 307.4C1519.8 303.8 1522.0 300.2 1524.1 296.5C1526.2 292.8 1528.3 289.0 1530.5 285.1C1532.7 281.1 1535.0 276.9 1537.2 272.8C1539.4 268.7 1541.7 264.5 1543.8 260.5C1545.9 256.5 1547.9 252.4 1549.8 248.8C1551.7 245.1 1553.5 241.8 1555.2 238.7C1557.0 235.6 1558.6 233.2 1560.3 230.2C1562.1 227.1 1563.9 223.6 1565.7 220.4C1567.6 217.2 1569.5 213.7 1571.4 211.0C1573.3 208.3 1575.2 206.3 1577.2 204.1C1579.2 202.0 1581.1 200.2 1583.5 198.1C1585.8 196.1 1588.3 194.0 1591.2 192.0C1594.0 190.0 1597.2 188.0 1600.6 186.1C1604.0 184.2 1607.8 182.3 1611.5 180.5C1615.2 178.8 1619.1 177.1 1622.9 175.5C1626.7 174.0 1630.5 172.6 1634.4 171.2C1638.2 169.9 1642.0 168.7 1645.8 167.5C1649.6 166.3 1653.4 165.2 1657.2 164.1C1661.0 163.0 1664.9 161.8 1668.7 160.7C1672.5 159.5 1676.3 158.4 1680.1 157.2C1683.9 156.1 1687.7 154.9 1691.5 153.8C1695.4 152.7 1699.2 151.6 1703.0 150.5C1706.8 149.5 1710.6 148.5 1714.4 147.5C1718.2 146.5 1722.1 145.6 1725.9 144.6C1729.7 143.7 1733.5 142.8 1737.3 141.9C1741.1 141.1 1744.9 140.3 1748.7 139.5C1752.6 138.7 1756.4 138.0 1760.2 137.4C1764.0 136.7 1767.6 136.1 1771.6 135.5C1775.7 134.9 1779.2 134.4 1784.4 133.6C1789.7 132.9 1795.0 132.0 1803.3 130.9C1811.6 129.7 1821.5 128.3 1834.2 126.7C1847.0 125.2 1862.9 123.4 1879.5 121.5C1896.1 119.7 1915.4 117.8 1934.0 115.8C1952.6 113.8 1972.1 111.8 1991.2 109.8C2010.2 107.9 2039.0 105.0 2048.6 104.0"/>
<path transform="translate(0 -0.7)" stroke="#f00" stroke-width="5.1" d="M2048.6 104.0C2039.1 104.8 2010.5 107.3 1991.4 108.8C1972.4 110.2 1953.1 111.6 1934.3 112.9C1915.4 114.2 1897.1 115.3 1878.4 116.5C1859.7 117.8 1841.3 118.9 1822.1 120.2C1802.9 121.6 1782.7 123.0 1763.0 124.7C1743.4 126.3 1723.6 128.2 1704.3 130.2C1685.0 132.1 1665.0 134.5 1647.1 136.6C1629.2 138.7 1611.7 141.0 1596.8 142.9C1581.8 144.8 1569.5 146.5 1557.5 148.1C1545.5 149.7 1534.6 151.1 1525.0 152.3C1515.4 153.5 1507.5 154.5 1500.0 155.5C1492.5 156.5 1486.7 157.3 1480.0 158.3C1473.3 159.3 1466.7 160.4 1460.0 161.6C1453.3 162.7 1446.7 163.9 1440.0 165.1C1433.3 166.4 1426.7 167.7 1420.0 169.1C1413.3 170.6 1406.7 172.2 1400.0 173.8C1393.3 175.5 1386.7 177.3 1380.0 179.0C1373.3 180.7 1366.7 182.4 1360.0 184.0C1353.3 185.6 1346.7 187.2 1340.0 188.8C1333.3 190.5 1326.7 192.3 1320.0 194.2C1313.3 196.1 1306.7 198.1 1300.0 200.3C1293.3 202.5 1286.7 204.9 1280.0 207.5C1273.3 210.0 1266.3 212.9 1260.0 215.7C1253.7 218.4 1247.5 221.1 1242.2 223.7C1236.8 226.4 1232.3 228.7 1228.0 231.5C1223.6 234.3 1219.4 237.5 1215.8 240.6C1212.2 243.6 1209.0 246.9 1206.2 249.9C1203.4 252.9 1201.3 255.7 1199.1 258.6C1197.0 261.5 1195.0 264.3 1193.4 267.2C1191.7 270.0 1190.2 272.9 1189.1 275.7C1187.9 278.6 1187.0 281.5 1186.2 284.3C1185.5 287.2 1184.9 289.9 1184.5 292.9C1184.1 295.9 1183.9 299.0 1183.7 302.5C1183.5 306.1 1183.5 310.2 1183.3 314.3C1183.2 318.5 1183.1 322.9 1183.0 327.2C1182.8 331.5 1182.6 335.8 1182.4 340.1C1182.2 344.4 1181.9 348.7 1181.6 353.0C1181.2 357.2 1180.9 361.5 1180.5 365.8C1180.2 370.1 1179.7 374.6 1179.4 378.7C1179.0 382.8 1178.6 386.5 1178.2 390.5C1177.8 394.4 1177.5 397.7 1176.9 402.2C1176.4 406.6 1175.7 411.8 1175.0 417.2C1174.3 422.5 1173.4 428.6 1172.8 434.3C1172.1 440.0 1171.4 446.0 1170.8 451.5C1170.3 457.0 1169.8 462.3 1169.3 467.2C1168.8 472.1 1168.3 476.4 1167.8 480.9C1167.4 485.5 1166.9 490.1 1166.3 494.7C1165.8 499.2 1165.2 503.9 1164.7 508.1C1164.1 512.3 1163.6 516.2 1163.2 520.1C1162.7 524.0 1162.5 527.7 1162.2 531.5C1161.9 535.4 1161.8 539.3 1161.6 543.0C1161.3 546.7 1161.0 550.4 1160.6 553.9C1160.2 557.3 1159.7 560.6 1159.3 563.9C1158.8 567.2 1158.3 570.3 1157.9 573.6C1157.5 576.9 1157.1 580.2 1156.7 583.6C1156.2 587.0 1155.9 589.9 1155.4 593.7C1154.9 597.5 1154.3 601.2 1153.7 606.5C1153.2 611.8 1152.6 618.7 1152.0 625.8C1151.3 632.8 1150.8 641.0 1150.0 648.6C1149.3 656.3 1148.3 663.9 1147.4 671.5C1146.5 679.2 1145.5 686.8 1144.5 694.4C1143.5 702.0 1142.6 709.7 1141.6 717.3C1140.6 724.9 1139.4 733.2 1138.5 740.2C1137.6 747.1 1136.7 753.9 1136.1 759.1C1135.6 764.3 1135.3 767.6 1135.1 771.5C1134.8 775.3 1134.6 778.7 1134.4 782.2C1134.1 785.7 1133.9 789.4 1133.5 792.4C1133.2 795.4 1132.9 797.8 1132.3 800.3C1131.8 802.8 1131.0 804.8 1130.2 807.5C1129.5 810.1 1128.5 813.0 1127.9 816.3C1127.2 819.6 1126.7 823.5 1126.1 827.2C1125.5 830.9 1125.0 834.8 1124.3 838.6C1123.6 842.4 1122.6 846.3 1121.8 850.1C1121.1 853.9 1120.3 857.7 1119.7 861.5C1119.1 865.3 1118.7 869.3 1118.3 873.0C1117.8 876.6 1117.5 880.2 1117.0 883.2C1116.5 886.3 1116.0 888.7 1115.3 891.3C1114.5 893.8 1113.5 895.9 1112.6 898.7C1111.8 901.5 1111.0 904.5 1110.2 907.8C1109.4 911.2 1108.8 915.0 1107.9 918.7C1107.1 922.4 1106.1 926.5 1105.2 930.1C1104.3 933.8 1103.5 937.5 1102.8 940.4C1102.0 943.4 1101.4 945.7 1100.8 947.9C1100.1 950.1 1099.6 951.4 1098.8 953.6C1098.0 955.8 1097.2 958.1 1096.1 961.1C1095.0 964.1 1093.5 967.8 1092.0 971.4C1090.5 975.1 1088.8 979.1 1087.1 982.9C1085.4 986.7 1083.6 990.5 1081.7 994.3C1079.8 998.1 1077.6 1002.1 1075.7 1005.8C1073.7 1009.4 1072.0 1013.0 1070.1 1016.3C1068.2 1019.6 1066.5 1022.4 1064.2 1025.5C1062.0 1028.6 1059.4 1031.5 1056.5 1034.9C1053.6 1038.3 1050.3 1042.1 1046.8 1045.8C1043.2 1049.5 1039.3 1053.4 1035.2 1057.2C1031.1 1061.0 1026.6 1064.9 1022.0 1068.7C1017.5 1072.5 1012.6 1076.4 1007.7 1080.1C1002.8 1083.8 997.5 1087.7 992.6 1091.1C987.7 1094.5 982.7 1097.7 978.3 1100.8C973.8 1103.8 969.9 1106.5 966.0 1109.5C962.0 1112.4 958.4 1115.3 954.7 1118.3C950.9 1121.3 947.2 1124.4 943.5 1127.6C939.7 1130.8 936.0 1134.0 932.3 1137.3C928.5 1140.7 924.8 1144.1 921.1 1147.8C917.3 1151.4 913.6 1155.2 909.9 1159.4C906.1 1163.5 902.4 1167.7 898.6 1172.5C894.8 1177.3 891.0 1182.5 887.2 1188.0C883.4 1193.4 879.6 1199.6 875.8 1205.4C871.9 1211.2 868.1 1217.3 864.3 1223.0C860.6 1228.7 856.8 1234.2 853.4 1239.6C850.0 1244.9 847.0 1250.0 844.1 1255.0C841.2 1260.1 838.7 1265.0 836.1 1269.8C833.6 1274.5 831.1 1279.2 828.7 1283.6C826.3 1287.9 824.0 1291.8 821.8 1295.8C819.5 1299.7 817.3 1303.4 815.0 1307.2C812.8 1311.0 810.5 1314.9 808.3 1318.6C806.2 1322.4 804.1 1326.1 802.2 1329.5C800.2 1332.9 798.6 1336.0 796.7 1338.9C794.9 1341.9 793.3 1344.5 791.2 1347.2C789.1 1350.0 786.8 1352.7 784.2 1355.5C781.5 1358.3 778.3 1361.4 775.3 1364.1C772.2 1366.8 768.8 1369.4 765.8 1371.6C762.7 1373.8 760.1 1375.3 757.0 1377.1C753.9 1378.9 750.9 1380.4 747.1 1382.1C743.3 1383.9 738.8 1386.0 734.3 1387.8C729.8 1389.7 724.8 1391.7 720.0 1393.4C715.3 1395.1 711.1 1396.6 705.8 1398.2C700.4 1399.9 695.0 1401.4 687.9 1403.2C680.7 1405.1 671.8 1407.3 662.9 1409.5C653.9 1411.6 643.8 1414.0 634.3 1416.1C624.8 1418.2 615.2 1420.3 605.7 1422.3C596.2 1424.4 586.6 1426.5 577.1 1428.4C567.6 1430.4 558.9 1432.3 548.6 1434.1C538.2 1436.0 528.2 1437.6 514.9 1439.4C501.6 1441.3 485.8 1443.2 469.0 1445.2C452.2 1447.2 432.1 1449.6 414.0 1451.6C395.9 1453.6 377.1 1455.5 360.2 1457.2C343.4 1459.0 320.9 1461.2 313.0 1462.0"/>
<path transform="translate(0 0.7)" stroke="#f00" stroke-width="5.1" d="M2048.6 104.0C2039.1 104.8 2010.5 107.3 1991.4 108.8C1972.4 110.2 1953.1 111.6 1934.3 112.9C1915.4 114.2 1897.1 115.3 1878.4 116.5C1859.7 117.8 1841.3 118.9 1822.1 120.2C1802.9 121.6 1782.7 123.0 1763.0 124.7C1743.4 126.3 1723.6 128.2 1704.3 130.2C1685.0 132.1 1665.0 134.5 1647.1 136.6C1629.2 138.7 1611.7 141.0 1596.8 142.9C1581.8 144.8 1569.5 146.5 1557.5 148.1C1545.5 149.7 1534.6 151.1 1525.0 152.3C1515.4 153.5 1507.5 154.5 1500.0 155.5C1492.5 156.5 1486.7 157.3 1480.0 158.3C1473.3 159.3 1466.7 160.4 1460.0 161.6C1453.3 162.7 1446.7 163.9 1440.0 165.1C1433.3 166.4 1426.7 167.7 1420.0 169.1C1413.3 170.6 1406.7 172.2 1400.0 173.8C1393.3 175.5 1386.7 177.3 1380.0 179.0C1373.3 180.7 1366.7 182.4 1360.0 184.0C1353.3 185.6 1346.7 187.2 1340.0 188.8C1333.3 190.5 1326.7 192.3 1320.0 194.2C1313.3 196.1 1306.7 198.1 1300.0 200.3C1293.3 202.5 1286.7 204.9 1280.0 207.5C1273.3 210.0 1266.3 212.9 1260.0 215.7C1253.7 218.4 1247.5 221.1 1242.2 223.7C1236.8 226.4 1232.3 228.7 1228.0 231.5C1223.6 234.3 1219.4 237.5 1215.8 240.6C1212.2 243.6 1209.0 246.9 1206.2 249.9C1203.4 252.9 1201.3 255.7 1199.1 258.6C1197.0 261.5 1195.0 264.3 1193.4 267.2C1191.7 270.0 1190.2 272.9 1189.1 275.7C1187.9 278.6 1187.0 281.5 1186.2 284.3C1185.5 287.2 1184.9 289.9 1184.5 292.9C1184.1 295.9 1183.9 299.0 1183.7 302.5C1183.5 306.1 1183.5 310.2 1183.3 314.3C1183.2 318.5 1183.1 322.9 1183.0 327.2C1182.8 331.5 1182.6 335.8 1182.4 340.1C1182.2 344.4 1181.9 348.7 1181.6 353.0C1181.2 357.2 1180.9 361.5 1180.5 365.8C1180.2 370.1 1179.7 374.6 1179.4 378.7C1179.0 382.8 1178.6 386.5 1178.2 390.5C1177.8 394.4 1177.5 397.7 1176.9 402.2C1176.4 406.6 1175.7 411.8 1175.0 417.2C1174.3 422.5 1173.4 428.6 1172.8 434.3C1172.1 440.0 1171.4 446.0 1170.8 451.5C1170.3 457.0 1169.8 462.3 1169.3 467.2C1168.8 472.1 1168.3 476.4 1167.8 480.9C1167.4 485.5 1166.9 490.1 1166.3 494.7C1165.8 499.2 1165.2 503.9 1164.7 508.1C1164.1 512.3 1163.6 516.2 1163.2 520.1C1162.7 524.0 1162.5 527.7 1162.2 531.5C1161.9 535.4 1161.8 539.3 1161.6 543.0C1161.3 546.7 1161.0 550.4 1160.6 553.9C1160.2 557.3 1159.7 560.6 1159.3 563.9C1158.8 567.2 1158.3 570.3 1157.9 573.6C1157.5 576.9 1157.1 580.2 1156.7 583.6C1156.2 587.0 1155.9 589.9 1155.4 593.7C1154.9 597.5 1154.3 601.2 1153.7 606.5C1153.2 611.8 1152.6 618.7 1152.0 625.8C1151.3 632.8 1150.8 641.0 1150.0 648.6C1149.3 656.3 1148.3 663.9 1147.4 671.5C1146.5 679.2 1145.5 686.8 1144.5 694.4C1143.5 702.0 1142.6 709.7 1141.6 717.3C1140.6 724.9 1139.4 733.2 1138.5 740.2C1137.6 747.1 1136.7 753.9 1136.1 759.1C1135.6 764.3 1135.3 767.6 1135.1 771.5C1134.8 775.3 1134.6 778.7 1134.4 782.2C1134.1 785.7 1133.9 789.4 1133.5 792.4C1133.2 795.4 1132.9 797.8 1132.3 800.3C1131.8 802.8 1131.0 804.8 1130.2 807.5C1129.5 810.1 1128.5 813.0 1127.9 816.3C1127.2 819.6 1126.7 823.5 1126.1 827.2C1125.5 830.9 1125.0 834.8 1124.3 838.6C1123.6 842.4 1122.6 846.3 1121.8 850.1C1121.1 853.9 1120.3 857.7 1119.7 861.5C1119.1 865.3 1118.7 869.3 1118.3 873.0C1117.8 876.6 1117.5 880.2 1117.0 883.2C1116.5 886.3 1116.0 888.7 1115.3 891.3C1114.5 893.8 1113.5 895.9 1112.6 898.7C1111.8 901.5 1111.0 904.5 1110.2 907.8C1109.4 911.2 1108.8 915.0 1107.9 918.7C1107.1 922.4 1106.1 926.5 1105.2 930.1C1104.3 933.8 1103.5 937.5 1102.8 940.4C1102.0 943.4 1101.4 945.7 1100.8 947.9C1100.1 950.1 1099.6 951.4 1098.8 953.6C1098.0 955.8 1097.2 958.1 1096.1 961.1C1095.0 964.1 1093.5 967.8 1092.0 971.4C1090.5 975.1 1088.8 979.1 1087.1 982.9C1085.4 986.7 1083.6 990.5 1081.7 994.3C1079.8 998.1 1077.6 1002.1 1075.7 1005.8C1073.7 1009.4 1072.0 1013.0 1070.1 1016.3C1068.2 1019.6 1066.5 1022.4 1064.2 1025.5C1062.0 1028.6 1059.4 1031.5 1056.5 1034.9C1053.6 1038.3 1050.3 1042.1 1046.8 1045.8C1043.2 1049.5 1039.3 1053.4 1035.2 1057.2C1031.1 1061.0 1026.6 1064.9 1022.0 1068.7C1017.5 1072.5 1012.6 1076.4 1007.7 1080.1C1002.8 1083.8 997.5 1087.7 992.6 1091.1C987.7 1094.5 982.7 1097.7 978.3 1100.8C973.8 1103.8 969.9 1106.5 966.0 1109.5C962.0 1112.4 958.4 1115.3 954.7 1118.3C950.9 1121.3 947.2 1124.4 943.5 1127.6C939.7 1130.8 936.0 1134.0 932.3 1137.3C928.5 1140.7 924.8 1144.1 921.1 1147.8C917.3 1151.4 913.6 1155.2 909.9 1159.4C906.1 1163.5 902.4 1167.7 898.6 1172.5C894.8 1177.3 891.0 1182.5 887.2 1188.0C883.4 1193.4 879.6 1199.6 875.8 1205.4C871.9 1211.2 868.1 1217.3 864.3 1223.0C860.6 1228.7 856.8 1234.2 853.4 1239.6C850.0 1244.9 847.0 1250.0 844.1 1255.0C841.2 1260.1 838.7 1265.0 836.1 1269.8C833.6 1274.5 831.1 1279.2 828.7 1283.6C826.3 1287.9 824.0 1291.8 821.8 1295.8C819.5 1299.7 817.3 1303.4 815.0 1307.2C812.8 1311.0 810.5 1314.9 808.3 1318.6C806.2 1322.4 804.1 1326.1 802.2 1329.5C800.2 1332.9 798.6 1336.0 796.7 1338.9C794.9 1341.9 793.3 1344.5 791.2 1347.2C789.1 1350.0 786.8 1352.7 784.2 1355.5C781.5 1358.3 778.3 1361.4 775.3 1364.1C772.2 1366.8 768.8 1369.4 765.8 1371.6C762.7 1373.8 760.1 1375.3 757.0 1377.1C753.9 1378.9 750.9 1380.4 747.1 1382.1C743.3 1383.9 738.8 1386.0 734.3 1387.8C729.8 1389.7 724.8 1391.7 720.0 1393.4C715.3 1395.1 711.1 1396.6 705.8 1398.2C700.4 1399.9 695.0 1401.4 687.9 1403.2C680.7 1405.1 671.8 1407.3 662.9 1409.5C653.9 1411.6 643.8 1414.0 634.3 1416.1C624.8 1418.2 615.2 1420.3 605.7 1422.3C596.2 1424.4 586.6 1426.5 577.1 1428.4C567.6 1430.4 558.9 1432.3 548.6 1434.1C538.2 1436.0 528.2 1437.6 514.9 1439.4C501.6 1441.3 485.8 1443.2 469.0 1445.2C452.2 1447.2 432.1 1449.6 414.0 1451.6C395.9 1453.6 377.1 1455.5 360.2 1457.2C343.4 1459.0 320.9 1461.2 313.0 1462.0"/>
</g>
<g stroke="#000" stroke-width="6" stroke-linecap="round">
<line x1="256.0" y1="1508.5" x2="284.0" y2="1508.5" stroke-width="5"/>
<line x1="270.2" y1="1435.8" x2="284.0" y2="1435.8"/>
<line x1="256.0" y1="1363.2" x2="284.0" y2="1363.2"/>
<line x1="270.2" y1="1290.6" x2="284.0" y2="1290.6"/>
<line x1="256.0" y1="1218.1" x2="284.0" y2="1218.1"/>
<line x1="270.2" y1="1145.5" x2="284.0" y2="1145.5"/>
<line x1="256.0" y1="1073.0" x2="284.0" y2="1073.0"/>
<line x1="270.2" y1="1000.4" x2="284.0" y2="1000.4"/>
<line x1="256.0" y1="927.9" x2="284.0" y2="927.9"/>
<line x1="270.2" y1="855.3" x2="284.0" y2="855.3"/>
<line x1="256.0" y1="782.8" x2="284.0" y2="782.8"/>
<line x1="270.2" y1="710.2" x2="284.0" y2="710.2"/>
<line x1="256.0" y1="637.7" x2="284.0" y2="637.7"/>
<line x1="270.2" y1="565.1" x2="284.0" y2="565.1"/>
<line x1="256.0" y1="492.6" x2="284.0" y2="492.6"/>
<line x1="270.2" y1="420.0" x2="284.0" y2="420.0"/>
<line x1="256.0" y1="347.5" x2="284.0" y2="347.5"/>
<line x1="270.2" y1="274.9" x2="284.0" y2="274.9"/>
<line x1="256.0" y1="202.4" x2="284.0" y2="202.4"/>
<line x1="270.2" y1="129.8" x2="284.0" y2="129.8"/>
<line x1="256.0" y1="58.0" x2="284.0" y2="58.0"/>
<line x1="313.1" y1="1510.0" x2="313.1" y2="1535.0"/>
<line x1="530.1" y1="1510.0" x2="530.1" y2="1521.3"/>
<line x1="747.0" y1="1510.0" x2="747.0" y2="1535.0"/>
<line x1="964.0" y1="1510.0" x2="964.0" y2="1521.3"/>
<line x1="1181.0" y1="1510.0" x2="1181.0" y2="1535.0"/>
<line x1="1398.0" y1="1510.0" x2="1398.0" y2="1521.3"/>
<line x1="1615.0" y1="1510.0" x2="1615.0" y2="1535.0"/>
<line x1="1831.9" y1="1510.0" x2="1831.9" y2="1521.3"/>
<line x1="2048.9" y1="1510.0" x2="2048.9" y2="1535.0"/>
</g>
<g font-size="64.0" text-anchor="end">
<text transform="translate(235.4 1526.5) scale(0.961 1)">-100</text>
<text transform="translate(235.4 1381.4) scale(0.961 1)">-80</text>
<text transform="translate(235.4 1236.3) scale(0.961 1)">-60</text>
<text transform="translate(235.4 1091.2) scale(0.961 1)">-40</text>
<text transform="translate(235.4 946.1) scale(0.961 1)">-20</text>
<text transform="translate(235.4 801.0) scale(0.961 1)">0</text>
<text transform="translate(235.4 655.9) scale(0.961 1)">20</text>
<text transform="translate(235.4 510.8) scale(0.961 1)">40</text>
<text transform="translate(235.4 365.7) scale(0.961 1)">60</text>
<text transform="translate(235.4 220.6) scale(0.961 1)">80</text>
<text transform="translate(235.4 76.2) scale(0.961 1)">100</text>
</g>
<g font-size="64.0" text-anchor="middle">
<text transform="translate(312.4 1605.2) scale(0.961 1)">-30</text>
<text transform="translate(746.3 1605.2) scale(0.961 1)">-15</text>
<text transform="translate(1180.3 1605.2) scale(0.961 1)">0</text>
<text transform="translate(1614.2 1605.2) scale(0.961 1)">15</text>
<text transform="translate(2048.2 1605.2) scale(0.961 1)">30</text>
</g>
<text font-size="75.5" text-anchor="middle" x="1181.4" y="1719.6">Magnetic Field (kOe)</text>
<text font-size="76" text-anchor="middle" transform="translate(95.2 741.5) rotate(-90)">Magnetization (emu/g)</text>
<rect x="297" y="71" width="573" height="196" fill="#fff" stroke="#000" stroke-width="2"/>
<line x1="308" y1="123" x2="474.5" y2="123" stroke="#000" stroke-width="6" stroke-linecap="round"/>
<line x1="305.3" y1="215.5" x2="477.4" y2="215.5" stroke="#f00" stroke-width="5"/>
<text font-size="77" transform="translate(495.4 147.9) scale(0.983 1)">PrCoB-TiC</text>
<text font-size="77" transform="translate(495.4 240.7) scale(0.983 1)">PrCoB</text>
</svg></body></html>
